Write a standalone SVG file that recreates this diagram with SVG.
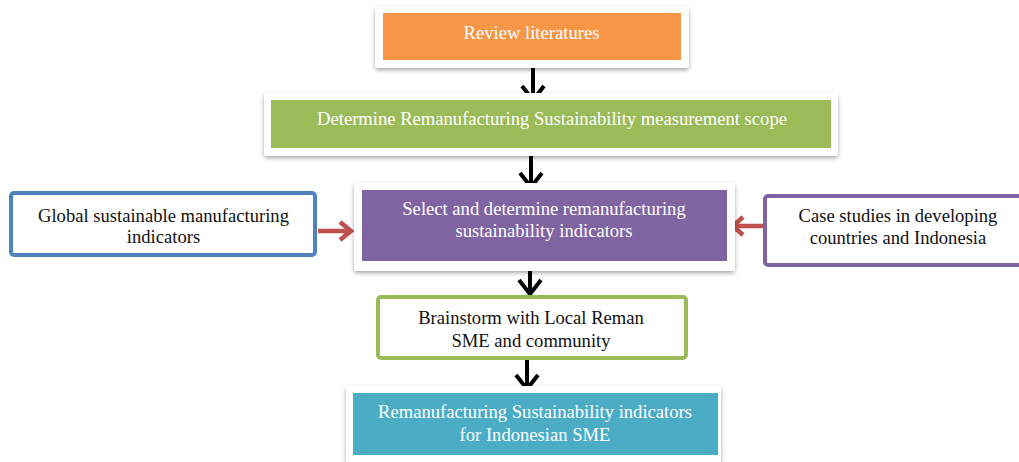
<svg xmlns="http://www.w3.org/2000/svg" width="1019" height="462" viewBox="0 0 1019 462">
<defs>
<filter id="sh" x="-10%" y="-20%" width="120%" height="150%">
<feDropShadow dx="0" dy="2" stdDeviation="2" flood-color="#000" flood-opacity="0.35"/>
</filter>
</defs>
<style>
.frame{fill:#fff;filter:url(#sh)}
text{font-size:18.6px;text-anchor:middle}
.w{fill:#fff}
.k{fill:#111}
.blk{stroke:#000;stroke-width:4;fill:none}
.red{stroke:#c0504d;stroke-width:4.5;fill:none}
</style>
<rect width="1019" height="462" fill="#fff"/>
<g id="connectors">
<path class="blk" d="M533 63V99M522 86L533 100L544 86"/>
<path class="blk" d="M531 155V186M520 173L531 187L542 173"/>
<path class="blk" d="M530 258V293M519 280L530 294L541 280"/>
<path class="blk" d="M527 351V388M516 375L527 389L538 375"/>
<path class="red" d="M318 231H350M340 222L351 231L340 240"/>
<path class="red" d="M763 226H734M743 217L733 226L743 235"/>
</g>
<g id="n1">
<rect class="frame" x="375" y="6" width="314" height="62" rx="3"/>
<rect x="383" y="13" width="298" height="47" fill="#f79646"/>
<text class="w" x="531.5" y="39" font-family="Liberation Serif, serif">Review literatures</text>
</g>
<g id="n2">
<rect class="frame" x="264" y="93" width="574" height="63" rx="3"/>
<rect x="271" y="100" width="560" height="48" fill="#9bbb59"/>
<text class="w" x="552" y="125" font-family="Liberation Serif, serif">Determine Remanufacturing Sustainability measurement scope</text>
</g>
<g id="n3">
<rect class="frame" x="354" y="183" width="381" height="88" rx="3"/>
<rect x="362" y="190" width="365" height="71" fill="#8064a2"/>
<text class="w" x="544" y="215" font-family="Liberation Serif, serif">Select and determine remanufacturing</text>
<text class="w" x="544" y="237" font-family="Liberation Serif, serif">sustainability indicators</text>
</g>
<g id="n4">
<rect x="11" y="193" width="304" height="62" rx="3" fill="#fff" stroke="#4f81bd" stroke-width="4"/>
<text class="k" x="163.5" y="222" font-family="Liberation Serif, serif">Global sustainable manufacturing</text>
<text class="k" x="163.5" y="243" font-family="Liberation Serif, serif">indicators</text>
</g>
<g id="n5">
<rect x="765" y="196" width="258" height="69" rx="3" fill="#fff" stroke="#8064a2" stroke-width="4"/>
<text class="k" x="898" y="222" font-family="Liberation Serif, serif">Case studies in developing</text>
<text class="k" x="898" y="244" font-family="Liberation Serif, serif">countries and Indonesia</text>
</g>
<g id="n6">
<rect x="378" y="297" width="308" height="61" rx="3" fill="#fff" stroke="#9bbb59" stroke-width="4"/>
<text class="k" x="531" y="324" font-family="Liberation Serif, serif">Brainstorm with Local Reman</text>
<text class="k" x="531" y="347" font-family="Liberation Serif, serif">SME and community</text>
</g>
<g id="n7">
<rect class="frame" x="346" y="386" width="375" height="80" rx="3"/>
<rect x="353" y="393" width="365" height="62" fill="#4bacc6"/>
<text class="w" x="535" y="418" font-family="Liberation Serif, serif">Remanufacturing Sustainability indicators</text>
<text class="w" x="535" y="441" font-family="Liberation Serif, serif">for Indonesian SME</text>
</g>
</svg>
